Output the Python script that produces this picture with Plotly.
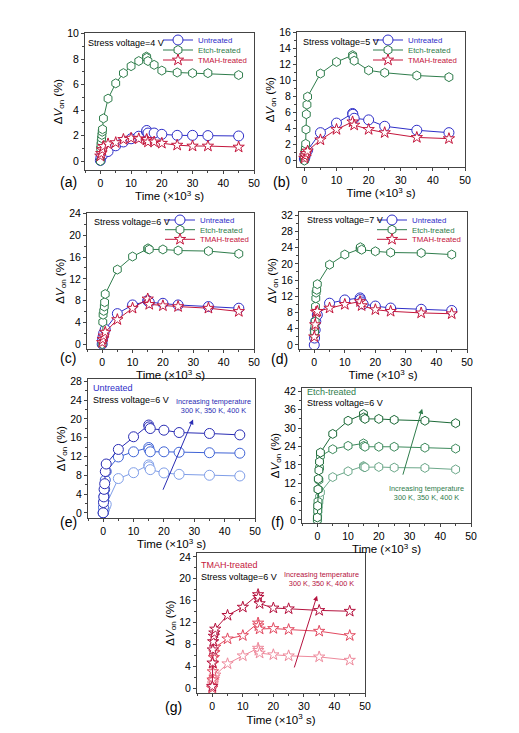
import plotly.graph_objects as go

# page body adds an 8 px margin, so the figure is drawn 8 px in from the top-left
OFF = 8
W, H = 519 - OFF, 733 - OFF
FONT = "Liberation Sans, Arial, sans-serif"

# time in units of 1e3 s, dVon in %
# (a) 4 V
t_a_unt = [0, 0.2, 0.5, 1, 2.5, 5, 7.5, 10, 12.5, 15, 15.1, 15.5, 17.5, 20, 25, 30, 35, 45]
v_a_unt = [0.05, 0.3, 0.45, 0.55, 0.75, 1.2, 1.5, 1.75, 1.95, 2.3, 2.4, 2.2, 2.2, 2.1, 2.02, 2.02, 2.0, 1.97]
t_a_etch = [0, 0.1, 0.2, 0.3, 0.4, 0.5, 0.6, 0.7, 1, 2.5, 5, 7.5, 10, 12.5, 15, 15.1, 15.5, 17.5, 20, 25, 30, 35, 45]
v_a_etch = [0, 1.0, 1.3, 1.55, 1.8, 2.05, 2.3, 2.5, 3.35, 4.9, 6.1, 6.9, 7.45, 7.85, 8.2, 8.1, 7.85, 7.55, 7.1, 6.95, 6.9, 6.9, 6.75]
t_a_tmah = [0, 0.3, 0.6, 1, 2.5, 5, 7.5, 10, 12.5, 15, 15.1, 15.5, 17.5, 20, 25, 30, 35, 45]
v_a_tmah = [0.4, 0.6, 0.9, 1.15, 1.35, 1.45, 1.7, 1.8, 1.75, 1.65, 1.7, 1.5, 1.5, 1.4, 1.25, 1.18, 1.18, 1.1]

# (b) 5 V
t_b_unt = [0, 0.2, 0.5, 1, 5, 10, 15, 15.1, 15.5, 20, 25, 35, 45]
v_b_unt = [0.2, 0.5, 0.9, 1.3, 3.5, 4.7, 5.9, 5.8, 5.3, 5.1, 4.3, 3.8, 3.5]
t_b_etch = [0, 0.1, 0.2, 0.3, 0.4, 0.5, 0.6, 0.8, 1, 5, 10, 15, 15.1, 15.5, 20, 25, 35, 45]
v_b_etch = [0, 0.5, 1.1, 1.5, 2.1, 3.9, 5.8, 7.0, 8.0, 10.9, 12.35, 13.2, 13.0, 12.5, 11.3, 11.0, 10.65, 10.45]
t_b_tmah = [0, 0.2, 0.5, 1, 5, 10, 15, 15.5, 20, 25, 35, 45]
v_b_tmah = [0.3, 0.6, 0.9, 1.2, 2.6, 3.9, 4.85, 4.45, 3.9, 3.5, 2.9, 2.75]

# (c) 6 V
t_c_unt = [0, 0.1, 0.3, 0.5, 1, 5, 10, 15, 15.1, 15.5, 20, 25, 35, 45]
v_c_unt = [0, 0.8, 1.4, 2.0, 2.7, 5.6, 7.2, 8.0, 7.9, 7.7, 7.5, 7.2, 6.9, 6.6]
t_c_etch = [0, 0.2, 0.3, 0.5, 0.7, 0.8, 1, 5, 10, 15, 15.1, 15.5, 20, 25, 35, 45]
v_c_etch = [0, 4.05, 5.4, 6.1, 6.9, 7.7, 9.2, 13.7, 16.1, 17.5, 17.6, 17.4, 17.4, 17.2, 17.1, 16.6]
t_c_tmah = [0, 0.2, 0.5, 1, 5, 10, 15, 15.5, 20, 25, 35, 45]
v_c_tmah = [0.3, 0.9, 1.5, 2.2, 4.5, 6.6, 8.3, 7.3, 7.05, 6.9, 6.6, 6.0]

# (d) 7 V
t_d_unt = [0, 0.1, 0.3, 0.5, 1, 5, 10, 15, 15.1, 15.5, 16, 20, 25, 35, 45]
v_d_unt = [0, 1.7, 3.7, 5.8, 7.4, 10.3, 11.1, 11.6, 11.2, 10.6, 10.1, 9.6, 9.1, 8.8, 8.5]
t_d_etch = [0, 0.1, 0.2, 0.3, 0.4, 0.5, 0.6, 0.8, 1, 5, 10, 15, 15.1, 15.5, 20, 25, 35, 45]
v_d_etch = [2.5, 3.3, 4.5, 5.8, 9.5, 11.5, 12.9, 13.6, 15.0, 19.8, 22.3, 23.7, 24.1, 23.5, 23.1, 22.8, 22.7, 22.3]
t_d_tmah = [0, 0.3, 0.6, 1, 5, 10, 15, 15.5, 20, 25, 35, 45]
v_d_tmah = [2.0, 5.0, 8.1, 8.3, 9.1, 10.0, 10.7, 9.7, 8.7, 8.3, 7.9, 7.7]

# (e)-(g) 6 V at 300/350/400 K
t_temp = [0, 0.1, 0.2, 0.3, 0.5, 0.7, 1, 5, 10, 15, 15.1, 15.5, 20, 25, 35, 45]
e_300 = [0, 0.2, 0.4, 0.7, 1.0, 1.3, 1.8, 7.3, 8.55, 10.2, 9.8, 9.2, 8.5, 8.2, 8.0, 7.85]
e_350 = [0, 1.2, 2.5, 3.6, 5.0, 7.0, 8.8, 11.9, 13.0, 13.9, 13.5, 13.0, 13.0, 12.9, 12.8, 12.7]
e_400 = [0, 2.2, 3.4, 5.0, 6.2, 8.8, 10.4, 13.5, 16.2, 18.7, 18.3, 17.95, 17.6, 17.1, 16.9, 16.6]
f_300 = [0, 1.5, 3.0, 4.5, 6.0, 7.5, 9.0, 14.0, 15.9, 17.6, 17.3, 17.2, 17.3, 17.1, 17.0, 16.5]
f_350 = [0, 3.0, 6.0, 10.0, 13.0, 17.0, 20.9, 23.1, 24.2, 25.0, 24.2, 23.9, 23.9, 23.9, 23.6, 23.3]
f_400 = [0.8, 4.6, 10.0, 13.4, 16.2, 19.0, 22.0, 28.1, 32.4, 34.6, 33.5, 33.0, 33.0, 32.7, 32.4, 31.6]
g_300 = [0, 0.4, 0.8, 1.2, 1.6, 2.0, 2.4, 4.45, 5.9, 7.3, 6.9, 6.4, 6.1, 5.9, 5.7, 5.1]
g_350 = [0, 1.5, 3.0, 4.5, 5.6, 6.5, 7.5, 9.0, 9.6, 11.9, 11.4, 10.8, 10.9, 10.7, 10.4, 9.6]
g_400 = [0.3, 4.6, 7.0, 8.5, 9.5, 10.1, 10.8, 13.3, 14.8, 17.1, 16.6, 15.45, 14.65, 14.5, 14.2, 14.05]

BLUE, GREEN, RED = "#2e2ec8", "#2f7d4c", "#c4163c"
E_COL = ["#7f9ee8", "#3f63d6", "#2a2db4"]
F_COL = ["#6ca88a", "#3d8a5c", "#1d6a38"]
G_COL = ["#ee8a9c", "#e2485f", "#b5123e"]

# plot boxes in page pixels: x0, x1, y0, y1
boxes = {1: (85, 254, 33, 170), 2: (297, 465, 32, 167), 3: (87, 254, 213, 349),
         4: (299, 467, 212, 349), 5: (88, 255, 379, 518), 6: (302, 471, 388, 523),
         7: (197, 365, 553, 693)}
xr = {1: [-5, 50], 2: [-2.3, 50], 3: [-5, 50], 4: [-5, 50], 5: [-5, 50], 6: [-5, 50], 7: [-5, 50]}
yr = {1: [-0.7, 10.05], 2: [-0.8, 16.1], 3: [-0.9, 24.1], 4: [-1, 32.8],
      5: [-1.1, 28.5], 6: [-1, 43.1], 7: [-0.9, 24.7]}
ydt = {1: 2, 2: 2, 3: 4, 4: 4, 5: 4, 6: 6, 7: 4}
x_standoff = {1: 0, 2: 1, 3: 0, 4: 0, 5: 0, 6: 0, 7: 5}


def sfx(i):
    return "" if i == 1 else str(i)


def px(x):
    return (x - OFF) / W


def py(y):
    return 1 - (y - OFF) / H


fig = go.Figure()

symbols = {"Untreated": "circle", "Etch-treated": "hexagon", "TMAH-treated": "star"}
msize = {"circle": 10, "hexagon": 9, "star": 8.5}
cols = {"Untreated": BLUE, "Etch-treated": GREEN, "TMAH-treated": RED}
top_series = [
    (1, [(t_a_unt, v_a_unt, "Untreated"), (t_a_etch, v_a_etch, "Etch-treated"), (t_a_tmah, v_a_tmah, "TMAH-treated")]),
    (2, [(t_b_unt, v_b_unt, "Untreated"), (t_b_etch, v_b_etch, "Etch-treated"), (t_b_tmah, v_b_tmah, "TMAH-treated")]),
    (3, [(t_c_unt, v_c_unt, "Untreated"), (t_c_etch, v_c_etch, "Etch-treated"), (t_c_tmah, v_c_tmah, "TMAH-treated")]),
    (4, [(t_d_unt, v_d_unt, "Untreated"), (t_d_etch, v_d_etch, "Etch-treated"), (t_d_tmah, v_d_tmah, "TMAH-treated")]),
]
# legend text start x and row y per panel (page pixels)
leg_pos = {1: (206, [40, 50, 60]), 2: (416, [40, 50, 60]),
           3: (208, [220, 229.7, 239.3]), 4: (420, [220, 229.7, 239.3])}
LEG_TEXT_OFFSET = 48

legends = {}
n_leg = 0
for p, series in top_series:
    lx, lys = leg_pos[p]
    for k, (t, v, name) in enumerate(series):
        n_leg += 1
        lname = "legend" + sfx(n_leg)
        c = cols[name]
        sym = symbols[name]
        fig.add_trace(go.Scatter(
            x=t, y=v, mode="lines+markers", xaxis="x" + sfx(p), yaxis="y" + sfx(p),
            name=f"<span style='color:{c}'>{name}</span>", legend=lname,
            line=dict(color=c, width=1),
            marker=dict(symbol=sym, size=msize[sym], color="white", line=dict(color=c, width=1)),
        ))
        legends[lname] = dict(x=px(lx - LEG_TEXT_OFFSET), y=py(lys[k]), xanchor="left",
                              yanchor="middle", bgcolor="rgba(0,0,0,0)",
                              font=dict(size=7.8, family=FONT), itemwidth=30)

temp_series = [
    (5, [e_300, e_350, e_400], E_COL, "circle"),
    (6, [f_300, f_350, f_400], F_COL, "hexagon"),
    (7, [g_300, g_350, g_400], G_COL, "star"),
]
for p, vals, colset, sym in temp_series:
    for v, c, temp in zip(vals, colset, ["300 K", "350 K", "400 K"]):
        fig.add_trace(go.Scatter(
            x=t_temp, y=v, mode="lines+markers", xaxis="x" + sfx(p), yaxis="y" + sfx(p),
            name=temp, showlegend=False,
            line=dict(color=c, width=1),
            marker=dict(symbol=sym, size=msize[sym], color="white", line=dict(color=c, width=1)),
        ))

layout = dict(width=W, height=H, margin=dict(l=0, r=0, t=0, b=0),
              paper_bgcolor="white", plot_bgcolor="white",
              font=dict(family=FONT, color="black"), showlegend=True)
layout.update(legends)

for i, (x0, x1, y0, y1) in boxes.items():
    s = sfx(i)
    layout["xaxis" + s] = dict(
        domain=[px(x0), px(x1)], anchor="y" + s, range=xr[i], dtick=10, tick0=0,
        showline=True, mirror=True, linecolor="#444", linewidth=1,
        ticks="outside", ticklen=3, tickcolor="#444", showgrid=False, zeroline=False,
        minor=dict(dtick=5, ticks="outside", ticklen=2, tickcolor="#444", showgrid=False),
        tickfont=dict(size=10.5), automargin=False,
        title=dict(text="Time (×10<sup>3</sup> s)", font=dict(size=11.5), standoff=x_standoff[i]),
    )
    layout["yaxis" + s] = dict(
        domain=[py(y1), py(y0)], anchor="x" + s, range=yr[i], dtick=ydt[i], tick0=0,
        showline=True, mirror=True, linecolor="#444", linewidth=1,
        ticks="outside", ticklen=3, tickcolor="#444", showgrid=False, zeroline=False,
        minor=dict(dtick=ydt[i] / 2, ticks="outside", ticklen=2, tickcolor="#444", showgrid=False),
        tickfont=dict(size=10.5), automargin=False,
        title=dict(text="Δ<i>V</i><sub>on</sub> (%)", font=dict(size=11.5), standoff=2),
    )

annotations = []


def txt(x, y, text, size=9, color="black", xanchor="left"):
    annotations.append(dict(x=px(x), y=py(y), xref="paper", yref="paper", text=text,
                            showarrow=False, xanchor=xanchor, yanchor="middle",
                            font=dict(size=size, color=color, family=FONT)))


# panel labels
for lab, (x, y) in zip("abcdefg", [(68, 182), (281, 182), (68, 358), (279, 359),
                                   (68, 522), (277, 522), (173, 707)]):
    txt(x, y, f"({lab})", size=14, xanchor="center")

txt(86, 42.7, "Stress voltage=4 V")
txt(301, 41.7, "Stress voltage=5 V")
txt(91.7, 222.3, "Stress voltage=6 V")
txt(304.7, 220, "Stress voltage=7 V")
txt(90.7, 388.3, "Untreated", color=BLUE)
txt(90.7, 400, "Stress voltage=6 V")
txt(304.7, 392.3, "Etch-treated", color=GREEN)
txt(304.7, 403.3, "Stress voltage=6 V")
txt(199, 565, "TMAH-treated", color=RED)
txt(199, 576.7, "Stress voltage=6 V")
txt(174, 405.7, "Increasing temperature<br>300 K, 350 K, 400 K", size=7.3, color="#2a2db4")
txt(387, 492.5, "Increasing temperature<br>300 K, 350 K, 400 K", size=7.3, color="#2f7d4c")
txt(281.7, 579, "Increasing temperature<br>300 K, 350 K, 400 K", size=7.3, color="#b5123e")

# temperature arrows (tail -> head, data coords)
for p, (tx, ty, hx, hy), c in [(5, (19.5, 4.6, 29.6, 19.9), "#2a2db4"),
                               (6, (27.7, 14.3, 34.1, 36.3), "#2f7d4c"),
                               (7, (26.7, 3.5, 34.3, 16.9), "#b5123e")]:
    s = sfx(p)
    annotations.append(dict(x=hx, y=hy, ax=tx, ay=ty, xref="x" + s, yref="y" + s,
                            axref="x" + s, ayref="y" + s, text="", showarrow=True,
                            arrowhead=2, arrowsize=1, arrowwidth=1, arrowcolor=c))

layout["annotations"] = annotations
fig.update_layout(**layout)
fig.write_html("out.html")
